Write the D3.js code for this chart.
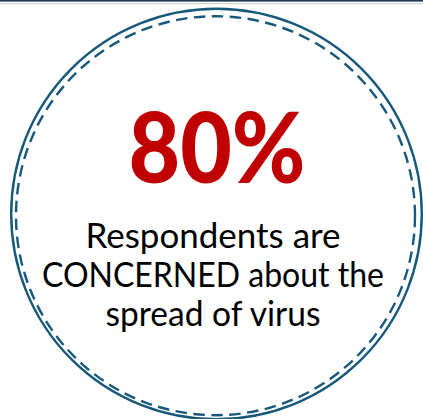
<!DOCTYPE html>
<html>
<head>
<meta charset="utf-8">
<script src="https://cdn.jsdelivr.net/npm/d3@7"></script>
<style>
  html, body { margin: 0; padding: 0; background: #ffffff; }
  svg { display: block; }
</style>
</head>
<body>
<svg id="chart" width="423" height="419"></svg>
<script>
// ---- data ----
const percentValue = [80];
const labelLines = ["Respondents are", "CONCERNED about the", "spread of virus"];
const labelTargetWidths = [255, 342, 215];

const W = 423, H = 419;
const svg = d3.select("#chart");

// top rules
svg.append("rect").attr("x", 0).attr("y", 0).attr("width", W).attr("height", 1.6).attr("fill", "#1d3652");
svg.append("rect").attr("x", 0).attr("y", 3).attr("width", W).attr("height", 1.2).attr("fill", "#d4d4d4");

// circles
const stroke = "#17597b";
svg.append("circle").attr("cx", 216.5).attr("cy", 214).attr("r", 205.3)
  .attr("fill", "none").attr("stroke", stroke).attr("stroke-width", 2.4);
svg.append("circle").attr("cx", 215.5).attr("cy", 215.7).attr("r", 199.5)
  .attr("fill", "none").attr("stroke", stroke).attr("stroke-width", 2.4)
  .attr("stroke-dasharray", "11.5 6.5");

// percentage
const fmt = d => d3.format("d")(d) + "%";
svg.selectAll("text.pct").data(percentValue).join("text")
  .attr("class", "pct")
  .attr("x", 217).attr("y", 183)
  .attr("text-anchor", "middle")
  .attr("font-family", "Lato, 'Open Sans', sans-serif")
  .attr("font-weight", 900)
  .attr("font-size", 98)
  .attr("fill", "#c00000")
  .attr("textLength", 177)
  .attr("lengthAdjust", "spacingAndGlyphs")
  .text(fmt);

// label lines
const yLine = d3.scaleLinear().domain([0, 2]).range([248, 326]);
svg.selectAll("text.lbl").data(labelLines).join("text")
  .attr("class", "lbl")
  .attr("x", 213).attr("y", (d, i) => yLine(i))
  .attr("text-anchor", "middle")
  .attr("font-family", "Lato, 'Open Sans', sans-serif")
  .attr("font-size", 34)
  .attr("fill", "#000000")
  .attr("textLength", (d, i) => labelTargetWidths[i])
  .attr("lengthAdjust", "spacingAndGlyphs")
  .text(d => d);
</script>
</body>
</html>
